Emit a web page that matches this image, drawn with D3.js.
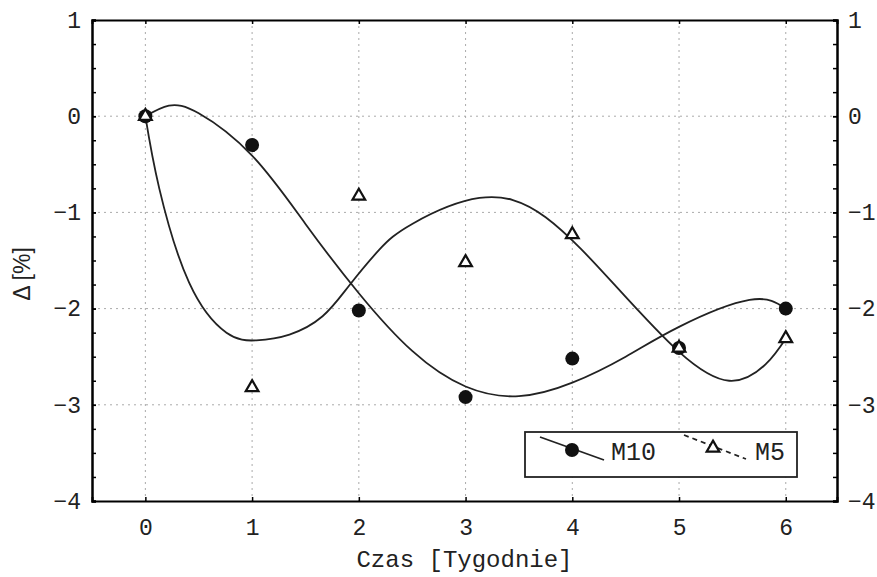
<!DOCTYPE html>
<html>
<head>
<meta charset="utf-8">
<script src="https://cdn.jsdelivr.net/npm/d3@7"></script>
<style>
body { margin: 0; background: #fff; }
text { fill: #222; }
</style>
</head>
<body>
<svg></svg>
<script>
// Measured points
const weeks = [0, 1, 2, 3, 4, 5, 6];
const m10 = [0, -0.30, -2.02, -2.92, -2.52, -2.41, -2.0];
const m5 = [0, -2.82, -0.83, -1.52, -1.23, -2.41, -2.31];

// Fitted curves
const m10FitX = [0, 0.22, 0.5, 1.0, 1.5, 2.0, 2.5, 3.0, 3.5, 4.0, 4.5, 5.0, 5.66, 6.0];
const m10FitY = [0, 0.11, 0.03, -0.41, -1.12, -1.84, -2.44, -2.81, -2.91, -2.77, -2.5, -2.19, -1.91, -2.0];
const m5FitX = [0, 0.13, 0.41, 0.76, 1.04, 1.35, 1.66, 1.91, 2.19, 2.5, 3.13, 3.75, 4.41, 5.0, 5.47, 5.81, 6.0];
const m5FitY = [0, -0.75, -1.73, -2.25, -2.33, -2.27, -2.08, -1.76, -1.39, -1.12, -0.85, -1.05, -1.77, -2.45, -2.75, -2.58, -2.31];

const yTicks = [1, 0, -1, -2, -3, -4];
const yMinor = d3.range(-4, 1.01, 0.25);
const seriesNames = ['M10', 'M5'];

const svgWidth = 877;
const svgHeight = 577;
const margins = {top: 20, right: 40, bottom: 76, left: 92};

const scaleX = d3.scaleLinear()
	.domain([-0.5, 6.48])
	.range([margins.left, svgWidth - margins.right]);

const scaleY = d3.scaleLinear()
	.domain([-4, 1])
	.range([svgHeight - margins.bottom, margins.top]);

const chart = d3.select('svg')
	.attr('width', svgWidth)
	.attr('height', svgHeight);

const font = '"Liberation Mono", "Courier New", monospace';

// Dotted grid
const grid = chart.append('g')
	.attr('stroke', '#aaa')
	.attr('stroke-width', 1)
	.attr('stroke-dasharray', '2,4');
grid.selectAll('.gx').data(weeks).join('line')
	.attr('x1', d => scaleX(d)).attr('x2', d => scaleX(d))
	.attr('y1', scaleY(1)).attr('y2', scaleY(-4));
grid.selectAll('.gy').data(yTicks.slice(1, -1)).join('line')
	.attr('y1', d => scaleY(d)).attr('y2', d => scaleY(d))
	.attr('x1', scaleX.range()[0]).attr('x2', scaleX.range()[1]);

const styleAxis = g => {
	g.select('.domain').attr('stroke-width', 2);
	g.selectAll('.tick line').attr('stroke-width', 1.5);
	g.selectAll('text').attr('font-family', font).attr('font-size', 23).attr('fill', '#333');
};

const fmt = d => d < 0 ? '\u2212' + Math.abs(d) : String(d);

// Left axis
chart.append('g')
	.attr('transform', `translate(${margins.left},0)`)
	.call(d3.axisLeft(scaleY).tickValues(yMinor).tickSize(-4).tickFormat(''))
	.call(styleAxis);
chart.append('g')
	.attr('transform', `translate(${margins.left},0)`)
	.call(d3.axisLeft(scaleY).tickValues(yTicks).tickSize(-4).tickPadding(11).tickFormat(fmt))
	.call(styleAxis);

// Right axis
chart.append('g')
	.attr('transform', `translate(${svgWidth - margins.right},0)`)
	.call(d3.axisRight(scaleY).tickValues(yMinor).tickSize(-4).tickFormat(''))
	.call(styleAxis);
chart.append('g')
	.attr('transform', `translate(${svgWidth - margins.right},0)`)
	.call(d3.axisRight(scaleY).tickValues(yTicks).tickSize(-4).tickPadding(11).tickFormat(fmt))
	.call(styleAxis);

// Bottom axis
chart.append('g')
	.attr('transform', `translate(0,${svgHeight - margins.bottom})`)
	.call(d3.axisBottom(scaleX).tickValues(weeks).tickSize(-4).tickPadding(18).tickFormat(d3.format('d')))
	.call(styleAxis);

// Top axis
chart.append('g')
	.attr('transform', `translate(0,${margins.top})`)
	.call(d3.axisTop(scaleX).tickValues(weeks).tickSize(-4).tickFormat(''))
	.call(styleAxis);

// Fitted curves
const line = d3.line()
	.curve(d3.curveNatural)
	.x(d => scaleX(d[0]))
	.y(d => scaleY(d[1]));

chart.append('path')
	.datum(d3.zip(m10FitX, m10FitY))
	.attr('fill', 'none').attr('stroke', '#222').attr('stroke-width', 1.8)
	.attr('d', line);
chart.append('path')
	.datum(d3.zip(m5FitX, m5FitY))
	.attr('fill', 'none').attr('stroke', '#222').attr('stroke-width', 1.8)
	.attr('d', line);

// Points
const tri = d3.symbol().type(d3.symbolTriangle).size(70);

chart.append('g').selectAll('circle')
	.data(d3.zip(weeks, m10)).join('circle')
	.attr('cx', d => scaleX(d[0])).attr('cy', d => scaleY(d[1]))
	.attr('r', 7).attr('fill', '#111');

chart.append('g').selectAll('path')
	.data(d3.zip(weeks, m5)).join('path')
	.attr('transform', d => `translate(${scaleX(d[0])},${scaleY(d[1])})`)
	.attr('d', tri)
	.attr('fill', '#fff').attr('stroke', '#111').attr('stroke-width', 2.2);

// Legend
const legend = chart.append('g');
legend.append('rect')
	.attr('x', 525).attr('y', 432).attr('width', 272).attr('height', 45)
	.attr('fill', '#fff').attr('stroke', '#222').attr('stroke-width', 1.8);
legend.append('line')
	.attr('x1', 540).attr('y1', 437).attr('x2', 604).attr('y2', 460)
	.attr('stroke', '#222').attr('stroke-width', 1.8);
legend.append('circle')
	.attr('cx', 572).attr('cy', 450).attr('r', 7).attr('fill', '#111');
legend.append('text')
	.attr('x', 611).attr('y', 460)
	.attr('font-family', font).attr('font-size', 25)
	.text(seriesNames[0]);
legend.append('line')
	.attr('x1', 684).attr('y1', 435).attr('x2', 746).attr('y2', 459)
	.attr('stroke', '#222').attr('stroke-width', 1.8).attr('stroke-dasharray', '5,4');
legend.append('path')
	.attr('transform', 'translate(713,448)')
	.attr('d', tri)
	.attr('fill', '#fff').attr('stroke', '#111').attr('stroke-width', 2.2);
legend.append('text')
	.attr('x', 755).attr('y', 460)
	.attr('font-family', font).attr('font-size', 25)
	.text(seriesNames[1]);

// Axis titles
chart.append('text')
	.attr('x', (scaleX.range()[0] + scaleX.range()[1]) / 2).attr('y', 567)
	.attr('text-anchor', 'middle')
	.attr('font-family', font).attr('font-size', 24)
	.text('Czas [Tygodnie]');

chart.append('text')
	.attr('transform', 'translate(30,274) rotate(-90)')
	.attr('text-anchor', 'middle')
	.attr('font-family', '"Liberation Sans", Arial, sans-serif').attr('font-size', 23)
	.text('\u0394 [%]');
</script>
</body>
</html>
